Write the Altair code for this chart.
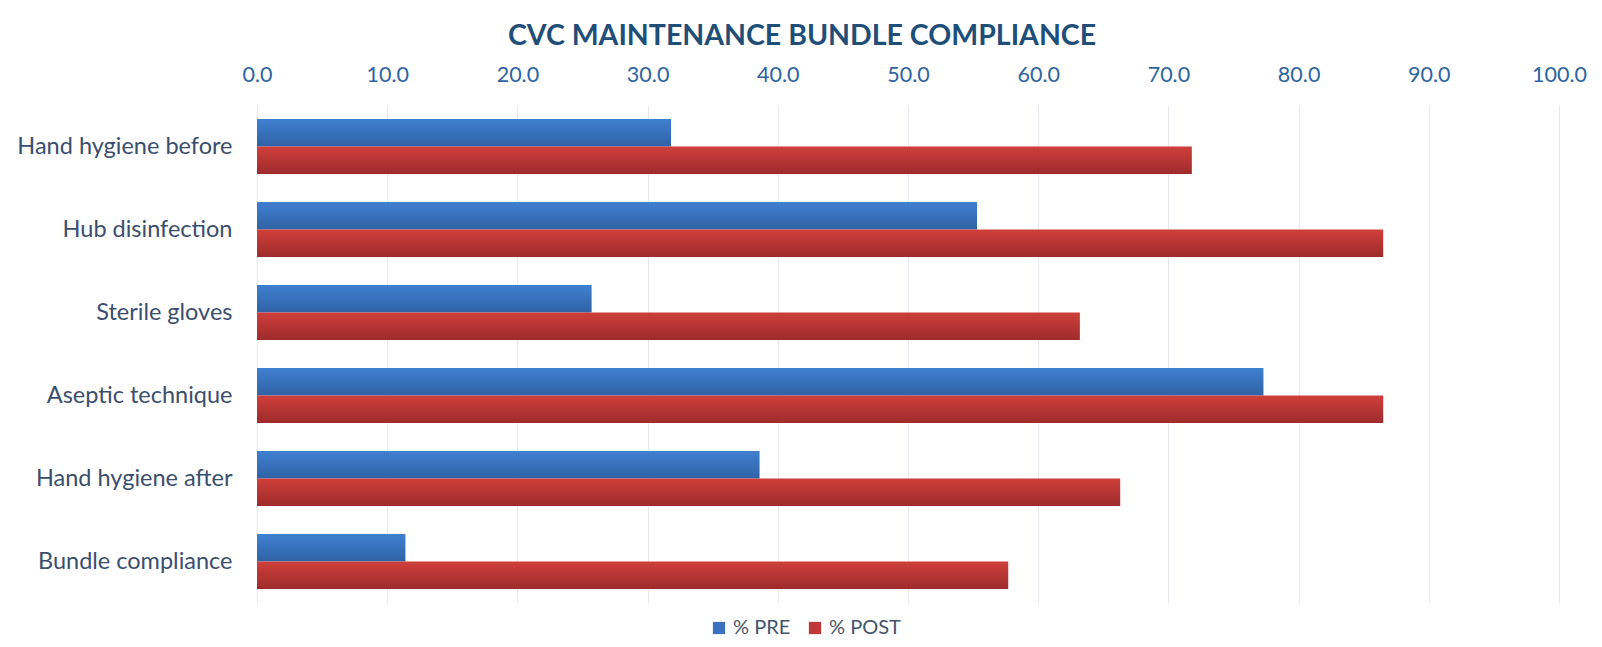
import altair as alt
import pandas as pd

categories = ["Hand hygiene before", "Hub disinfection", "Sterile gloves",
              "Aseptic technique", "Hand hygiene after", "Bundle compliance"]
series = ["% PRE", "% POST"]
pre_values = [31.8, 55.3, 25.7, 77.3, 38.6, 11.4]
post_values = [71.8, 86.5, 63.2, 86.5, 66.3, 57.7]
x_ticks = [0, 10, 20, 30, 40, 50, 60, 70, 80, 90, 100]

rows = []
for c, v in zip(categories, pre_values):
    rows.append({"category": c, "series": series[0], "value": v})
for c, v in zip(categories, post_values):
    rows.append({"category": c, "series": series[1], "value": v})
df = pd.DataFrame(rows)

FONT = "Lato"
blue_grad = alt.Gradient(gradient="linear", x1=0, y1=0, x2=0, y2=1,
                         stops=[alt.GradientStop(color="#4080d0", offset=0),
                                alt.GradientStop(color="#2f62a6", offset=1)])
red_grad = alt.Gradient(gradient="linear", x1=0, y1=0, x2=0, y2=1,
                        stops=[alt.GradientStop(color="#cf3f3b", offset=0),
                               alt.GradientStop(color="#9e2b2b", offset=1)])

x_enc = alt.X("value:Q",
              scale=alt.Scale(domain=[0, 100], nice=False),
              axis=alt.Axis(orient="top", values=x_ticks, format=".1f", title=None,
                            domain=False, ticks=False, tickSize=0, labelPadding=19,
                            labelFont=FONT, labelFontSize=21.5, labelColor="#2e64a0",
                            grid=True, gridColor="#e6e9ee", gridWidth=1,
                            labelFlush=False))
y_enc = alt.Y("category:N", sort=categories,
              scale=alt.Scale(paddingInner=0.34, paddingOuter=0.17),
              axis=alt.Axis(title=None, domain=False, ticks=False, tickSize=0,
                            labelPadding=25, labelFont=FONT, labelFontSize=23.5,
                            labelColor="#3b4e6e", labelLimit=400))
yoff = alt.YOffset("series:N", sort=series,
                   scale=alt.Scale(domain=series, paddingInner=0, paddingOuter=0))

base = alt.Chart(df).encode(x=x_enc, y=y_enc, yOffset=yoff)

pre_layer = base.transform_filter(alt.datum.series == series[0]).mark_bar(fill=blue_grad)
post_layer = base.transform_filter(alt.datum.series == series[1]).mark_bar(fill=red_grad)
legend_layer = base.mark_bar(opacity=0).encode(
    color=alt.Color("series:N", sort=series,
                    scale=alt.Scale(domain=series, range=["#3a72bd", "#c0373a"]),
                    legend=alt.Legend(title=None, orient="none", direction="horizontal",
                                      legendX=452, legendY=513,
                                      symbolType="square", symbolSize=150,
                                      symbolOpacity=1, symbolStrokeWidth=0,
                                      labelFont=FONT, labelFontSize=20,
                                      labelColor="#44546a", columnPadding=14,
                                      symbolOffset=0, labelOffset=4)))

chart = alt.layer(pre_layer, post_layer, legend_layer).properties(
    width=1302, height=498,
    background="white",
    title=alt.TitleParams("CVC MAINTENANCE BUNDLE COMPLIANCE", font=FONT, fontSize=28.5,
                          fontWeight="bold", color="#1f4e79", anchor="middle",
                          frame="group", dx=-106, offset=14),
    autosize=alt.AutoSizeParams(type="none"),
    padding={"left": 249, "top": 97, "right": 32, "bottom": 34},
).configure_view(strokeWidth=0, stroke=None)

chart.save("out.html", embed_options={"renderer": "svg", "actions": False})
